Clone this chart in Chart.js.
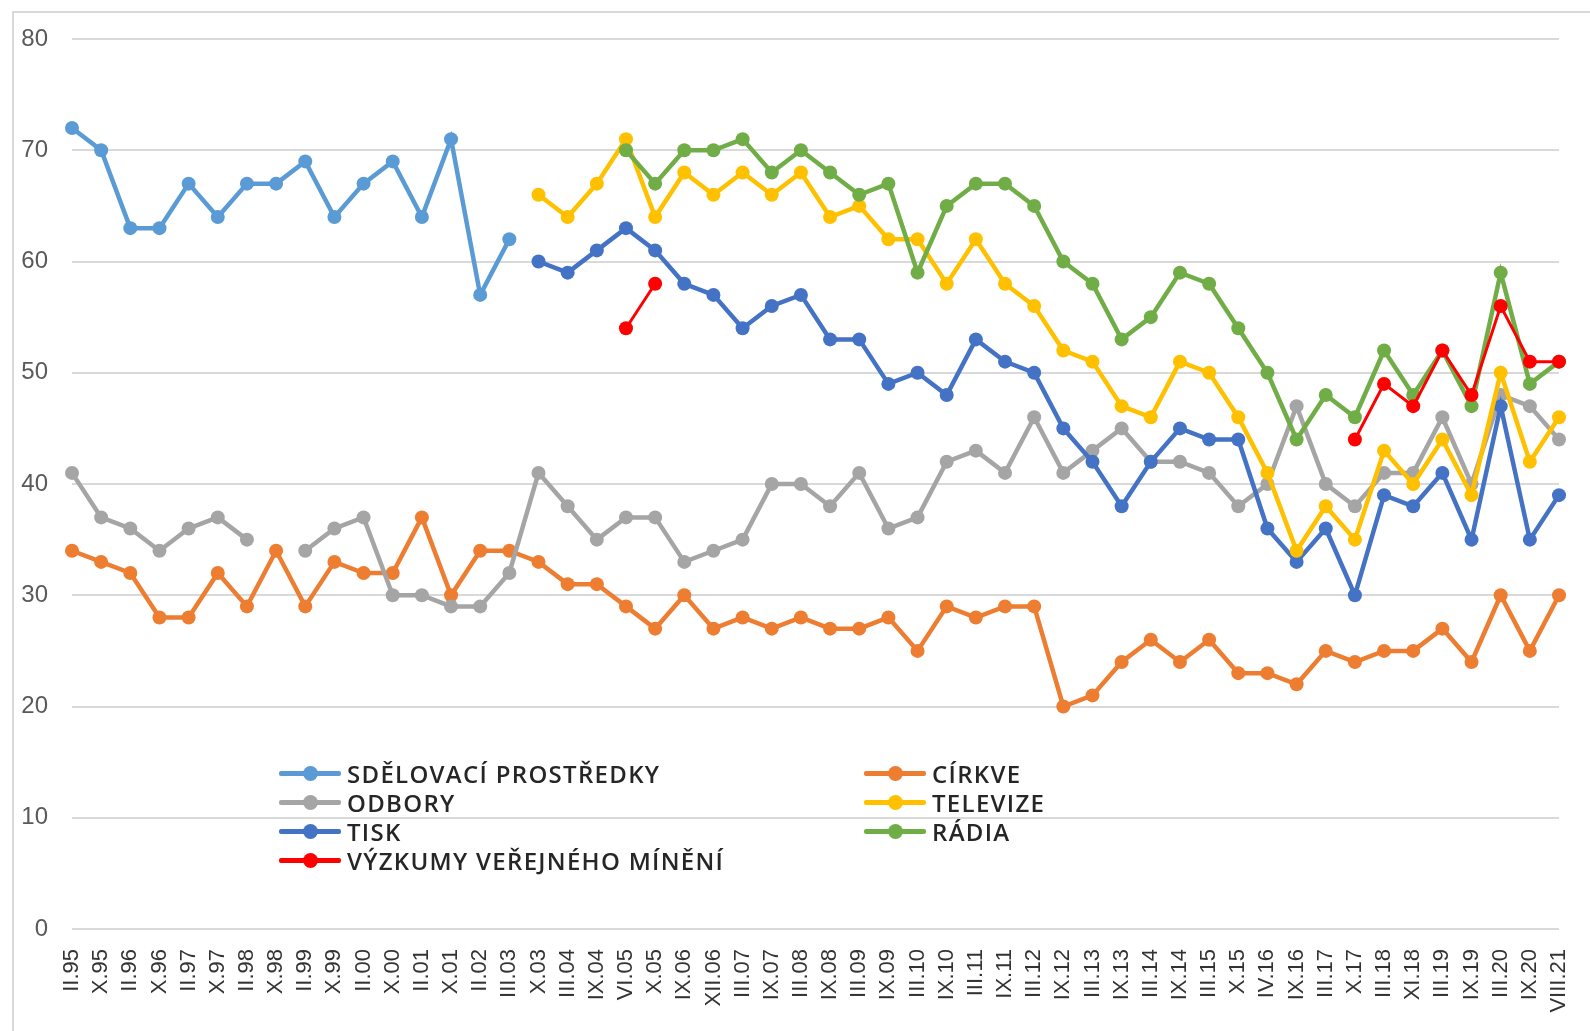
<!DOCTYPE html>
<html>
<head>
<meta charset="utf-8">
<script src="https://cdn.jsdelivr.net/npm/chart.js@4.4.1/dist/chart.umd.min.js"></script>
<style>
html,body{margin:0;padding:0;background:#fff;overflow:hidden;}
#wrap{position:relative;width:1590px;height:1031px;}
#frame{position:absolute;left:12px;top:11px;width:1600px;height:1100px;border-left:2px solid #d9d9d9;border-top:2px solid #d9d9d9;}
#graph{position:absolute;left:0;top:0;}
#legend{position:absolute;left:279px;top:759px;display:grid;grid-template-columns:585px auto;grid-auto-rows:29px;
font-family:"Open Sans",sans-serif;font-size:24px;font-weight:600;letter-spacing:1.3px;color:#262626;}
.item{display:flex;align-items:center;white-space:nowrap;}
.mk{position:relative;width:62px;height:5px;margin-right:6px;border-radius:2px;}
.mk span{position:absolute;left:24px;top:-5px;width:15px;height:15px;border-radius:50%;}
</style>
</head>
<body>
<div id="wrap">
<div id="frame"></div>
<canvas id="graph" width="1590" height="1031"></canvas>
<div id="legend"></div>
</div>
<script>

let labels=["II.95","X.95","II.96","X.96","II.97","X.97","II.98","X.98","II.99","X.99",
"II.00","X.00","II.01","X.01","II.02","III.03","X.03","III.04","IX.04","VI.05",
"X.05","IX.06","XII.06","III.07","IX.07","III.08","IX.08","III.09","IX.09","III.10",
"IX.10","III.11","IX.11","III.12","IX.12","III.13","IX.13","III.14","IX.14","III.15",
"X.15","IV.16","IX.16","III.17","X.17","III.18","XI.18","III.19","IX.19","III.20",
"IX.20","VIII.21"];

let yTicks=[0,10,20,30,40,50,60,70,80];

let sdelovaci=[72,70,63,63,67,64,67,67,69,64,67,69,64,71,57,62,
null,null,null,null,null,null,null,null,null,null,null,null,null,null,null,null,null,null,null,null,
null,null,null,null,null,null,null,null,null,null,null,null,null,null,null,null];

let cirkve=[34,33,32,28,28,32,29,34,29,33,32,32,37,30,34,34,33,31,31,29,
27,30,27,28,27,28,27,27,28,25,29,28,29,29,20,21,24,26,24,26,
23,23,22,25,24,25,25,27,24,30,25,30];

let odbory=[41,37,36,34,36,37,35,null,34,36,37,30,30,29,29,32,41,38,35,37,
37,33,34,35,40,40,38,41,36,37,42,43,41,46,41,43,45,42,42,41,
38,40,47,40,38,41,41,46,40,48,47,44];

let televize=[null,null,null,null,null,null,null,null,null,null,null,null,null,null,null,null,
66,64,67,71,64,68,66,68,66,68,64,65,62,62,58,62,58,56,52,51,47,46,51,50,
46,41,34,38,35,43,40,44,39,50,42,46];

let tisk=[null,null,null,null,null,null,null,null,null,null,null,null,null,null,null,null,
60,59,61,63,61,58,57,54,56,57,53,53,49,50,48,53,51,50,45,42,38,42,45,44,
44,36,33,36,30,39,38,41,35,47,35,39];

let radia=[null,null,null,null,null,null,null,null,null,null,null,null,null,null,null,null,null,null,null,
70,67,70,70,71,68,70,68,66,67,59,65,67,67,65,60,58,53,55,59,58,
54,50,44,48,46,52,48,52,47,59,49,51];

let vyzkumy=[null,null,null,null,null,null,null,null,null,null,null,null,null,null,null,null,null,null,null,
54,58,null,null,null,null,null,null,null,null,null,null,null,null,null,null,null,null,null,null,null,
null,null,null,null,44,49,47,52,48,56,51,51];

function line(label,data,color,order,width){
return {
label:label,
data:data,
borderColor:color,
backgroundColor:color,
borderWidth:width||4.5,
pointRadius:7,
pointHoverRadius:7,
pointBorderWidth:0,
spanGaps:false,
tension:0,
order:order
};
}

let datasets=[
line("SDĚLOVACÍ PROSTŘEDKY",sdelovaci,"#5b9bd5",6),
line("CÍRKVE",cirkve,"#ed7d31",5),
line("ODBORY",odbory,"#a5a5a5",4),
line("TELEVIZE",televize,"#ffc000",2),
line("TISK",tisk,"#4472c4",3),
line("RÁDIA",radia,"#70ad47",1),
line("VÝZKUMY VEŘEJNÉHO MÍNĚNÍ",vyzkumy,"#ff0000",0,3)
];

let chart=new Chart(document.getElementById("graph"),{
type:"line",
data:{labels:labels,datasets:datasets},
options:{
responsive:false,
animation:false,
layout:{padding:{left:0,right:31,top:39,bottom:0}},
plugins:{legend:{display:false},tooltip:{enabled:false}},
scales:{
x:{
offset:false,
grid:{display:false},
border:{display:false},
ticks:{
autoSkip:false,maxRotation:90,minRotation:90,padding:12,
color:"#333",font:{family:"Liberation Sans, Arial",size:22}
},
afterFit:function(s){s.height=102;s.paddingRight=0;s.paddingLeft=0;}
},
y:{
min:0,max:80,
afterBuildTicks:function(s){s.ticks=yTicks.map(v=>({value:v}));},
grid:{color:"#d9d9d9",lineWidth:2,drawTicks:false},
border:{display:false},
ticks:{
padding:24,color:"#595959",font:{family:"Liberation Sans, Arial",size:24}
},
afterFit:function(s){s.width=72;}
}
}
}
});

let legend=document.getElementById("legend");
datasets.forEach(function(d){
let item=document.createElement("div");
item.className="item";
let mk=document.createElement("span");
mk.className="mk";
mk.style.background=d.borderColor;
let dot=document.createElement("span");
dot.style.background=d.borderColor;
mk.appendChild(dot);
let t=document.createElement("span");
t.textContent=d.label;
item.appendChild(mk);
item.appendChild(t);
legend.appendChild(item);
});

</script>
</body>
</html>
